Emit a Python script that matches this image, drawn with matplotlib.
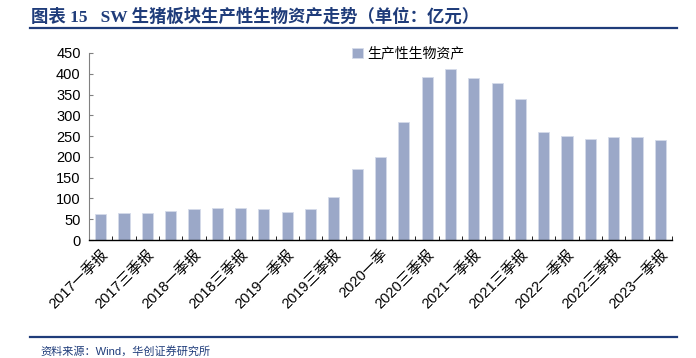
import matplotlib
matplotlib.use('Agg')
import matplotlib.pyplot as plt
import numpy as np

plt.rcParams['font.family'] = ['Liberation Sans', 'Noto Sans CJK SC']

quarters = ['2017一季报', '2017中报', '2017三季报', '2017年报',
            '2018一季报', '2018中报', '2018三季报', '2018年报',
            '2019一季报', '2019中报', '2019三季报', '2019年报',
            '2020一季', '2020中报', '2020三季报', '2020年报',
            '2021一季报', '2021中报', '2021三季报', '2021年报',
            '2022一季报', '2022中报', '2022三季报', '2022年报',
            '2023一季报']
assets = [63, 66, 65, 69, 75, 77, 78, 75, 67, 75, 104,
          171, 199, 285, 393, 411, 390, 379, 340, 259, 250, 243, 249, 249, 241]
yticks = [0, 50, 100, 150, 200, 250, 300, 350, 400, 450]

title_color = '#1F3C7A'
bar_color = '#9BA8C8'

fig = plt.figure(figsize=(6.96, 3.58), dpi=100)
ax = fig.add_axes([89/696, 1-240/358, (672-89)/696, (240-53)/358])

x = np.arange(len(quarters))
ax.bar(x, assets, width=0.48, color=bar_color, edgecolor='#D5DBEA',
       linewidth=0.6, label='生产性生物资产', zorder=2)

ax.set_xlim(-0.5, len(quarters) - 0.5)
ax.set_ylim(0, 450)
ax.set_yticks(yticks)
ax.tick_params(axis='y', direction='in', length=3, color='#808080',
               labelsize=10.5, pad=6)

ax.set_xticks(x[::2])
ax.set_xticklabels(quarters[::2], rotation=45, ha='right',
                   rotation_mode='anchor', fontsize=10.5)
ax.tick_params(axis='x', length=0, pad=5)
ax.set_xticks(np.arange(-0.5, len(quarters)), minor=True)
ax.tick_params(axis='x', which='minor', direction='in', length=3,
               color='black')

for s in ['top', 'right']:
    ax.spines[s].set_visible(False)
ax.spines['left'].set_color('#808080')
ax.spines['bottom'].set_color('black')
ax.spines['bottom'].set_linewidth(1.0)

ax.legend(loc='upper left', bbox_to_anchor=(0.43, 1.1), frameon=False,
          fontsize=10, handlelength=0.8, handleheight=0.8,
          handletextpad=0.3)

fig.text(31/696, 1-17/358, '图表 15   SW 生猪板块生产性生物资产走势（单位：亿元）',
         fontsize=12.5, fontweight='bold', color=title_color, va='center',
         family=['Liberation Serif', 'Noto Sans CJK SC'])
fig.add_artist(plt.Line2D([30/696, 677/696], [1-28/358, 1-28/358],
                          color=title_color, linewidth=1.6))
fig.add_artist(plt.Line2D([30/696, 677/696], [1-337/358, 1-337/358],
                          color=title_color, linewidth=1.6))
fig.text(40/696, 1/358, '资料来源：Wind，华创证券研究所', fontsize=8,
         color=title_color, va='bottom')

fig.savefig('out.png', dpi=100)
